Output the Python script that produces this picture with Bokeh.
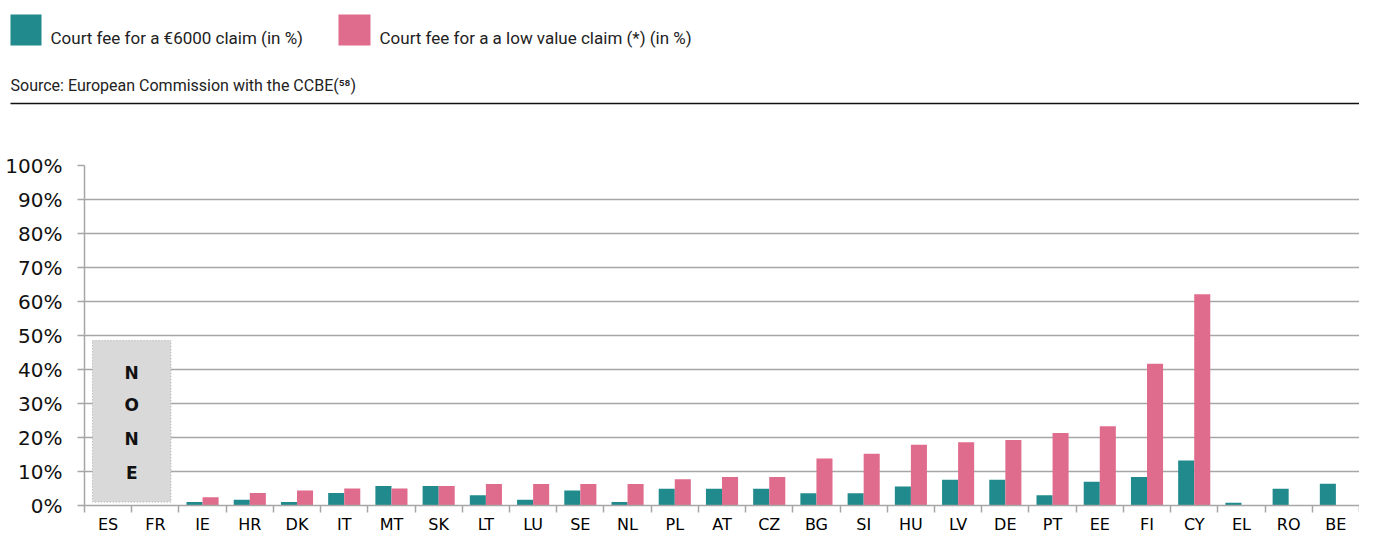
import numpy as np
from bokeh.plotting import figure
from bokeh.layouts import column
from bokeh.models import (Range1d, FixedTicker, PrintfTickFormatter, CustomJSTickFormatter,
                          ColumnDataSource)
from bokeh.core.properties import value
from bokeh.embed import file_html
from bokeh.resources import INLINE

categories = ["ES", "FR", "IE", "HR", "DK", "IT", "MT", "SK", "LT", "LU", "SE", "NL", "PL", "AT",
              "CZ", "BG", "SI", "HU", "LV", "DE", "PT", "EE", "FI", "CY", "EL", "RO", "BE"]
fee_6000 = [None, None, 1.0, 1.7, 1.0, 3.7, 5.7, 5.7, 3.0, 1.7, 4.4, 1.0, 4.9, 4.9,
            4.9, 3.6, 3.6, 5.6, 7.6, 7.6, 3.0, 7.0, 8.4, 13.2, 0.8, 4.9, 6.4]
fee_low = [None, None, 2.4, 3.7, 4.4, 5.0, 5.0, 5.7, 6.3, 6.3, 6.3, 6.3, 7.7, 8.4,
           8.4, 13.8, 15.2, 17.9, 18.6, 19.3, 21.3, 23.3, 41.7, 62.1, None, None, None]
y_ticks = [0, 10, 20, 30, 40, 50, 60, 70, 80, 90, 100]
series_names = ["Court fee for a €6000 claim (in %)", "Court fee for a a low value claim (*) (in %)"]
source_text = "Source: European Commission with the CCBE(⁵⁸)"
none_letters = ["N", "O", "N", "E"]
none_label_y = [39, 29.5, 19.5, 9.5]

TEAL = "#218A8C"
PINK = "#E06C8D"
GRID = "#A6A6A6"
W = 1359
HDR_H = 150
CH_H = 386
HDR_FONT = value("Roboto")

# ---------------- header figure (pixel coordinates, y downwards) ----------------
hdr = figure(width=W, height=HDR_H, x_range=Range1d(0, W), y_range=Range1d(HDR_H, 0),
             toolbar_location=None, output_backend="svg", title=None, min_border=0)
hdr.frame_align = False
hdr.axis.visible = False
hdr.grid.visible = False
hdr.outline_line_color = None
hdr.quad(left=[10, 338], right=[41, 370], top=[14, 14], bottom=[45, 45],
         fill_color=[TEAL, PINK], line_color=None)
hdr.text(x=[50, 379], y=[37, 37], text=series_names, text_font=HDR_FONT,
         text_font_size="17px", text_color="#222222", text_baseline="alphabetic")
hdr.text(x=[10], y=[85], text=[source_text], text_font=HDR_FONT,
         text_font_size="16px", text_color="#222222", text_baseline="alphabetic")
hdr.segment(x0=[10], y0=[103], x1=[W], y1=[103], line_color="#111111", line_width=1.5)

# ---------------- chart ----------------
n = len(categories)
centers = np.arange(n) + 0.5
bw = 0.34
t = np.array([np.nan if v is None else v for v in fee_6000], dtype=float)
pk = np.array([np.nan if v is None else v for v in fee_low], dtype=float)

p = figure(width=W, height=CH_H, x_range=Range1d(0, n), y_range=Range1d(0, 100),
           toolbar_location=None, output_backend="svg", title=None,
           min_border_left=84, min_border_right=0, min_border_top=15, min_border_bottom=0)
p.frame_align = False
p.outline_line_color = None
p.xgrid.visible = False
p.ygrid.ticker = FixedTicker(ticks=y_ticks)
p.ygrid.grid_line_color = GRID
p.ygrid.grid_line_width = 1.5

src = ColumnDataSource(dict(xt=centers - bw / 2, xp=centers + bw / 2, t=t, pk=pk))
p.vbar(x="xt", top="t", width=bw, bottom=0, source=src, fill_color=TEAL, line_color=None)
p.vbar(x="xp", top="pk", width=bw, bottom=0, source=src, fill_color=PINK, line_color=None)

# NONE box over ES and FR
p.quad(left=[centers[0] - 0.33], right=[centers[1] + 0.33], bottom=[1.0], top=[48.5],
       fill_color="#D9D9D9", line_color="#A8A8A8", line_dash="1 2", line_width=1)
p.text(x=[(centers[0] + centers[1]) / 2] * 4, y=none_label_y, text=none_letters,
       text_font=value("DejaVu Sans"), text_font_size="17px", text_font_style="bold",
       text_color="#111111", text_align="center", text_baseline="middle")

# y axis
ya = p.yaxis[0]
ya.ticker = FixedTicker(ticks=y_ticks)
ya.formatter = PrintfTickFormatter(format="%d%%")
ya.axis_line_color = GRID
ya.axis_line_width = 1.5
ya.major_tick_line_color = GRID
ya.major_tick_line_width = 1.5
ya.major_tick_out = 7
ya.major_tick_in = 0
ya.minor_tick_line_color = None
ya.major_label_standoff = 15
ya.major_label_text_font = "DejaVu Sans"
ya.major_label_text_font_size = "20px"
ya.major_label_text_color = "#111111"

# x axis: labels at centres, tick marks at category boundaries
xa = p.xaxis[0]
xa.ticker = FixedTicker(ticks=list(centers), minor_ticks=list(np.arange(n + 1)))
xa.formatter = CustomJSTickFormatter(args=dict(cats=categories),
                                     code="return cats[Math.floor(tick)] || '';")
xa.axis_line_color = GRID
xa.axis_line_width = 1.5
xa.major_tick_line_color = None
xa.major_tick_out = 7
xa.major_tick_in = 0
xa.minor_tick_line_color = GRID
xa.minor_tick_line_width = 1.5
xa.minor_tick_out = 7
xa.minor_tick_in = 0
xa.major_label_standoff = 2
xa.major_label_text_font = "DejaVu Sans"
xa.major_label_text_font_size = "16px"
xa.major_label_text_color = "#000000"

layout = column(hdr, p, spacing=0)
open("out.html", "w").write(file_html(layout, INLINE))
